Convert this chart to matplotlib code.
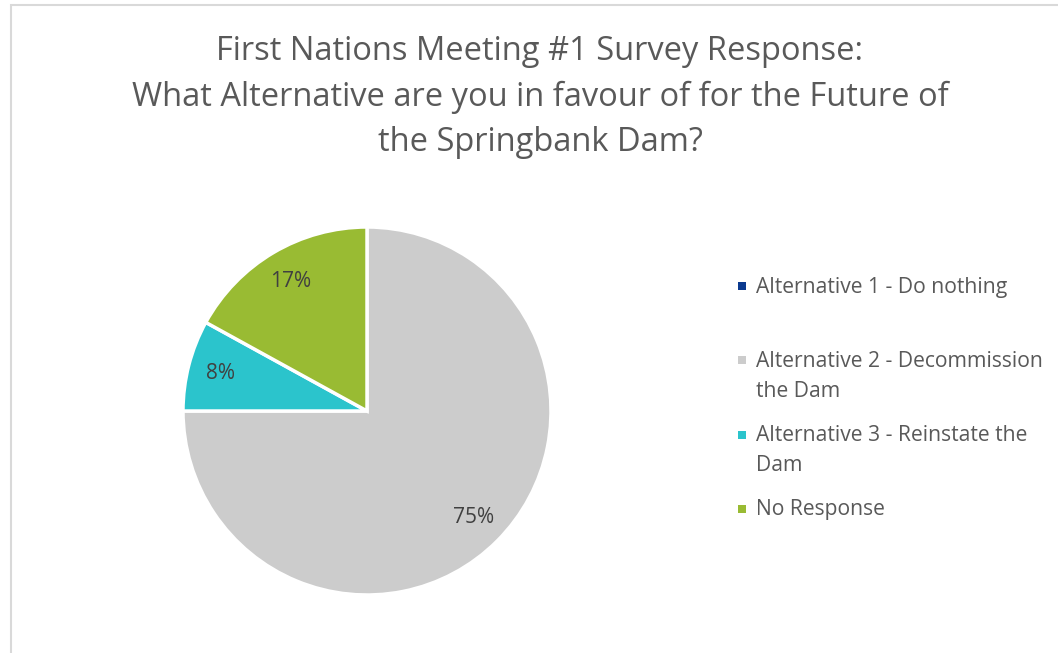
import matplotlib.pyplot as plt
from matplotlib.patches import Rectangle

plt.rcParams['font.family'] = ['Open Sans', 'DejaVu Sans']

# survey answers (share of responses, %)
categories = ['Alternative 1 - Do nothing',
              'Alternative 2 - Decommission\nthe Dam',
              'Alternative 3 - Reinstate the\nDam',
              'No Response']
shares = [0, 75, 8, 17]
colors = ['#0b3a8f', '#cccccc', '#2bc4cc', '#99bb33']

title = ('First Nations Meeting #1 Survey Response:\n'
         'What Alternative are you in favour of for the Future of\n'
         'the Springbank Dam?')

W, H = 1058, 653
fig = plt.figure(figsize=(W / 100, H / 100), dpi=100)

# light frame like the office chart area
fig.patches.append(Rectangle((11 / W, -0.01), 1.2, 1 - 5 / H + 0.01, transform=fig.transFigure,
                             fill=False, edgecolor='#d9d9d9', linewidth=1.5))

fig.text(540 / W, 1 - 35 / H, title, ha='center', va='top', fontsize=23.5,
         color='#595959', linespacing=1.5)

# pie
cx, cy, r = 367, 411, 184
ax = fig.add_axes([(cx - r) / W, (H - cy - r) / H, 2 * r / W, 2 * r / H])
wedges, _, autotexts = ax.pie(
    shares, colors=colors, startangle=90, counterclock=False,
    autopct=lambda p: f'{p:.0f}%' if p > 0.5 else '', pctdistance=0.82,
    wedgeprops=dict(edgecolor='white', linewidth=2.5),
    textprops=dict(fontsize=15, color='#404040'))
ax.set_xlim(-1, 1)
ax.set_ylim(-1, 1)
ax.set_aspect('auto')
ax.axis('off')

# legend drawn by hand so entries are evenly spaced
for i, (lab, col) in enumerate(zip(categories, colors)):
    ty = 286 + 74.3 * i
    fig.patches.append(Rectangle(((742 - 4) / W, 1 - (ty + 4) / H), 8 / W, 8 / H,
                                 transform=fig.transFigure, facecolor=col, edgecolor='none'))
    fig.text(756 / W, 1 - (ty - 9.5) / H, lab, ha='left', va='top', fontsize=15.2,
             color='#595959', linespacing=1.55)

fig.savefig('out.png', dpi=100)
